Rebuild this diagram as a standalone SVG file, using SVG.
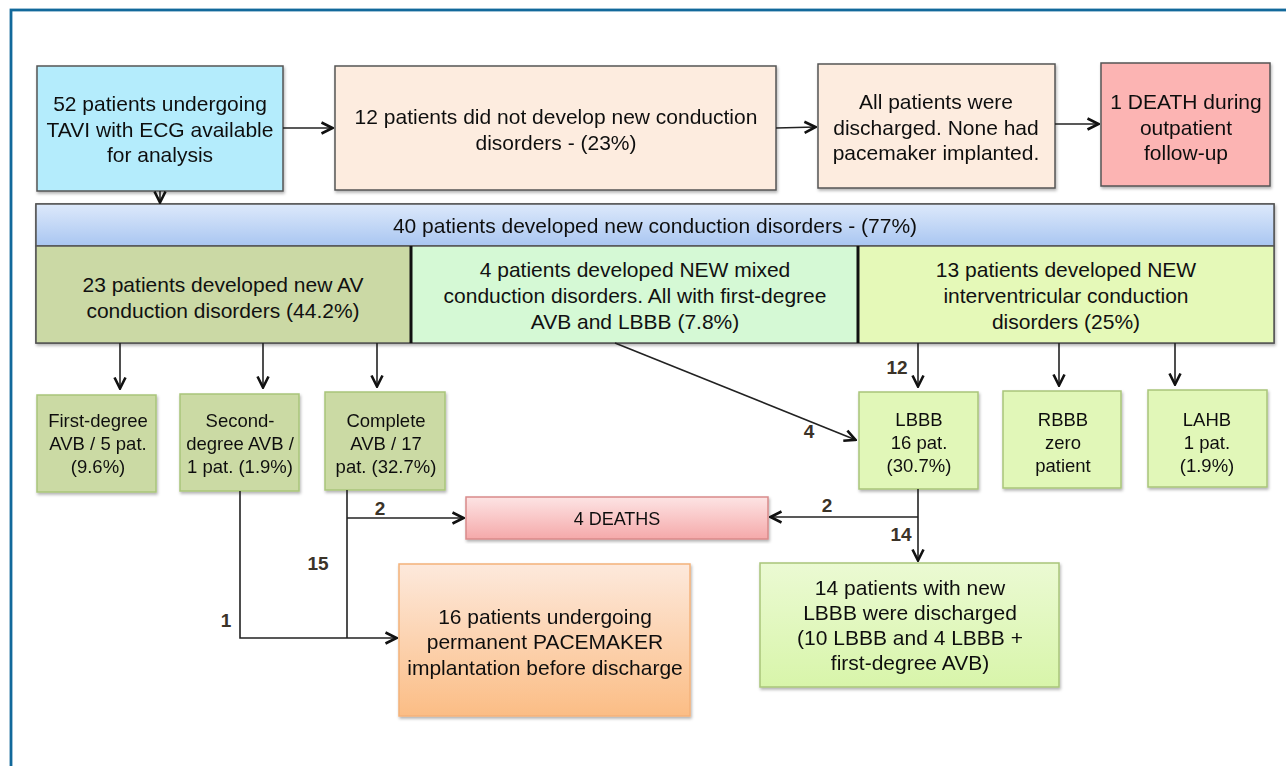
<svg xmlns="http://www.w3.org/2000/svg" width="1286" height="766" viewBox="0 0 1286 766">
<defs>
<style>
.t{font-family:"Liberation Sans",Arial,sans-serif;font-size:21px;fill:#111;text-anchor:middle}
.s{font-family:"Liberation Sans",Arial,sans-serif;font-size:18.5px;fill:#111;text-anchor:middle}
.n{font-family:"Liberation Sans",Arial,sans-serif;font-size:19px;font-weight:bold;fill:#3b3328;text-anchor:middle}
.box{stroke:#555;stroke-width:1.5}
.gbox{stroke:#a9c57a;stroke-width:1.5}
.ln{stroke:#222;stroke-width:1.6;fill:none}
</style>
<marker id="ah" viewBox="0 0 14 14" refX="13" refY="7" markerWidth="14" markerHeight="14" markerUnits="userSpaceOnUse" orient="auto">
<path d="M1.5,1.5 L12.5,7 L1.5,12.5" fill="none" stroke="#111" stroke-width="2.6"/>
</marker>
<filter id="sh" x="-5%" y="-5%" width="110%" height="115%">
<feDropShadow dx="1" dy="2" stdDeviation="1.5" flood-color="#000" flood-opacity="0.3"/>
</filter>
<linearGradient id="band" x1="0" y1="0" x2="0" y2="1">
<stop offset="0" stop-color="#dde9fb"/><stop offset="1" stop-color="#a9c6f1"/>
</linearGradient>
<linearGradient id="death" x1="0" y1="0" x2="0" y2="1">
<stop offset="0" stop-color="#fde4e4"/><stop offset="1" stop-color="#f5a9aa"/>
</linearGradient>
<linearGradient id="pace" x1="0" y1="0" x2="0" y2="1">
<stop offset="0" stop-color="#fde9dc"/><stop offset="1" stop-color="#fbbd85"/>
</linearGradient>
<linearGradient id="dis" x1="0" y1="0" x2="0" y2="1">
<stop offset="0" stop-color="#ebfad3"/><stop offset="1" stop-color="#d8f5aa"/>
</linearGradient>
</defs>
<rect x="0" y="0" width="1286" height="766" fill="#fff"/>
<rect x="11" y="10" width="1300" height="780" fill="none" stroke="#12699b" stroke-width="2.8"/>

<g id="n-start" filter="url(#sh)">
<rect class="box" x="37" y="66" width="246" height="125" fill="#b4ecfc"/>
<text class="t" x="160" y="111">52 patients undergoing</text>
<text class="t" x="160" y="137">TAVI with ECG available</text>
<text class="t" x="160" y="162">for analysis</text>
</g>
<g id="n-noconduction" filter="url(#sh)">
<rect class="box" x="335" y="66" width="441" height="124" fill="#fdecdf"/>
<text class="t" x="556" y="124">12 patients did not develop new conduction</text>
<text class="t" x="556" y="150">disorders - (23%)</text>
</g>
<g id="n-discharged" filter="url(#sh)">
<rect class="box" x="818" y="64" width="237" height="124" fill="#fdecdf"/>
<text class="t" x="936" y="109">All patients were</text>
<text class="t" x="936" y="135">discharged. None had</text>
<text class="t" x="936" y="160">pacemaker implanted.</text>
</g>
<g id="n-death1" filter="url(#sh)">
<rect class="box" x="1101" y="63" width="169" height="123" fill="#fcb4b3"/>
<text class="t" x="1186" y="109">1 DEATH during</text>
<text class="t" x="1186" y="135">outpatient</text>
<text class="t" x="1186" y="160">follow-up</text>
</g>

<g id="n-band" filter="url(#sh)">
<rect class="box" x="36" y="204" width="1238" height="139" fill="#fff"/>
<rect x="36" y="204" width="1238" height="42" fill="url(#band)" stroke="#555" stroke-width="1.5"/>
<text class="t" x="655" y="233">40 patients developed new conduction disorders - (77%)</text>
</g>
<g id="n-av">
<rect x="36" y="246" width="375" height="97" fill="#cbd9a5" stroke="#555" stroke-width="1.5"/>
<text class="t" x="223" y="292">23 patients developed new AV</text>
<text class="t" x="223" y="318">conduction disorders (44.2%)</text>
</g>
<g id="n-mixed">
<rect x="411" y="246" width="447" height="97" fill="#d5f9d5" stroke="#555" stroke-width="1.5"/>
<text class="t" x="635" y="277">4 patients developed NEW mixed</text>
<text class="t" x="635" y="303">conduction disorders. All with first-degree</text>
<text class="t" x="635" y="329">AVB and LBBB (7.8%)</text>
</g>
<g id="n-iv">
<rect x="858" y="246" width="416" height="97" fill="#e5f9b8" stroke="#555" stroke-width="1.5"/>
<text class="t" x="1066" y="277">13 patients developed NEW</text>
<text class="t" x="1066" y="303">interventricular conduction</text>
<text class="t" x="1066" y="329">disorders (25%)</text>
<line x1="411" y1="246" x2="411" y2="343" stroke="#111" stroke-width="3"/>
<line x1="858" y1="246" x2="858" y2="343" stroke="#111" stroke-width="3"/>
</g>

<g id="n-first" filter="url(#sh)">
<rect class="gbox" x="37" y="395" width="119" height="97" fill="#cbdaa4"/>
<text class="s" x="98" y="427">First-degree</text>
<text class="s" x="98" y="450">AVB / 5 pat.</text>
<text class="s" x="98" y="473">(9.6%)</text>
</g>
<g id="n-second" filter="url(#sh)">
<rect class="gbox" x="180" y="394" width="119" height="97" fill="#cbdaa4"/>
<text class="s" x="240" y="427">Second-</text>
<text class="s" x="240" y="450">degree AVB /</text>
<text class="s" x="240" y="473">1 pat. (1.9%)</text>
</g>
<g id="n-complete" filter="url(#sh)">
<rect class="gbox" x="325" y="392" width="120" height="98" fill="#cbdaa4"/>
<text class="s" x="386" y="427">Complete</text>
<text class="s" x="386" y="450">AVB / 17</text>
<text class="s" x="386" y="473">pat. (32.7%)</text>
</g>
<g id="n-lbbb" filter="url(#sh)">
<rect class="gbox" x="859" y="392" width="119" height="97" fill="#e1f7b8"/>
<text class="s" x="919" y="426">LBBB</text>
<text class="s" x="919" y="449">16 pat.</text>
<text class="s" x="919" y="472">(30.7%)</text>
</g>
<g id="n-rbbb" filter="url(#sh)">
<rect class="gbox" x="1003" y="391" width="118" height="97" fill="#e1f7b8"/>
<text class="s" x="1063" y="426">RBBB</text>
<text class="s" x="1063" y="449">zero</text>
<text class="s" x="1063" y="472">patient</text>
</g>
<g id="n-lahb" filter="url(#sh)">
<rect class="gbox" x="1148" y="390" width="119" height="97" fill="#e1f7b8"/>
<text class="s" x="1207" y="426">LAHB</text>
<text class="s" x="1207" y="449">1 pat.</text>
<text class="s" x="1207" y="472">(1.9%)</text>
</g>

<g id="n-deaths" filter="url(#sh)">
<rect x="466" y="497" width="302" height="42" fill="url(#death)" stroke="#d98a8a" stroke-width="1.5"/>
<text x="617" y="525" font-family="Liberation Sans, Arial, sans-serif" font-size="18" fill="#111" text-anchor="middle">4 DEATHS</text>
</g>
<g id="n-pacemaker" filter="url(#sh)">
<rect x="399" y="564" width="291" height="152" fill="url(#pace)" stroke="#f4b27a" stroke-width="1.5"/>
<text class="t" x="545" y="624">16 patients undergoing</text>
<text class="t" x="545" y="649">permanent PACEMAKER</text>
<text class="t" x="545" y="675">implantation before discharge</text>
</g>
<g id="n-lbbbdis" filter="url(#sh)">
<rect x="760" y="563" width="299" height="124" fill="url(#dis)" stroke="#a9c57a" stroke-width="1.5"/>
<text class="t" x="910" y="595">14 patients with new</text>
<text class="t" x="910" y="620">LBBB were discharged</text>
<text class="t" x="910" y="645">(10 LBBB and 4 LBBB +</text>
<text class="t" x="910" y="670">first-degree AVB)</text>
</g>

<g id="connectors">
<line class="ln" x1="283" y1="128" x2="333" y2="128" marker-end="url(#ah)"/>
<line class="ln" x1="776" y1="128" x2="816" y2="127" marker-end="url(#ah)"/>
<line class="ln" x1="1055" y1="124" x2="1099" y2="124" marker-end="url(#ah)"/>
<line class="ln" x1="160" y1="191" x2="160" y2="203" marker-end="url(#ah)"/>
<line class="ln" x1="120" y1="343" x2="120" y2="389" marker-end="url(#ah)"/>
<line class="ln" x1="263" y1="343" x2="263" y2="388" marker-end="url(#ah)"/>
<line class="ln" x1="377" y1="343" x2="377" y2="387" marker-end="url(#ah)"/>
<line class="ln" x1="918" y1="343" x2="918" y2="387" marker-end="url(#ah)"/>
<line class="ln" x1="1059" y1="343" x2="1059" y2="386" marker-end="url(#ah)"/>
<line class="ln" x1="1175" y1="343" x2="1175" y2="385" marker-end="url(#ah)"/>
<line class="ln" x1="615" y1="343" x2="856" y2="440" marker-end="url(#ah)"/>
<line class="ln" x1="347" y1="490" x2="347" y2="638"/>
<line class="ln" x1="347" y1="518" x2="464" y2="518" marker-end="url(#ah)"/>
<polyline class="ln" points="240,491 240,638 397,638" marker-end="url(#ah)"/>
<line class="ln" x1="918" y1="489" x2="918" y2="561" marker-end="url(#ah)"/>
<line class="ln" x1="918" y1="517" x2="770" y2="517" marker-end="url(#ah)"/>
<text class="n" x="897" y="374">12</text>
<text class="n" x="809" y="438">4</text>
<text class="n" x="380" y="515">2</text>
<text class="n" x="827" y="512">2</text>
<text class="n" x="901" y="541">14</text>
<text class="n" x="318" y="570">15</text>
<text class="n" x="226" y="627">1</text>
</g>
</svg>
